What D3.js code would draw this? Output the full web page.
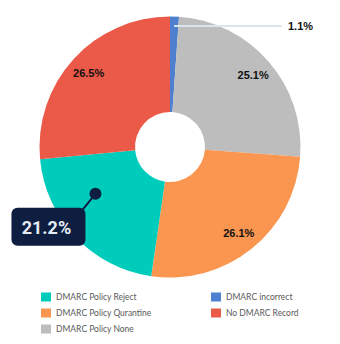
<!DOCTYPE html>
<html>
<head>
<meta charset="utf-8">
<script src="https://cdn.jsdelivr.net/npm/d3@7"></script>
<style>
  html, body { margin: 0; padding: 0; background: #ffffff; }
  svg { display: block; }
</style>
</head>
<body>
<svg id="chart" width="340" height="344"></svg>
<script>
// DMARC status breakdown, drawn clockwise from 12 o'clock
const categories = ["DMARC incorrect", "DMARC Policy None", "DMARC Policy Quarantine", "DMARC Policy Reject", "No DMARC Record"];
const values = [1.1, 25.1, 26.1, 21.2, 26.5];
const colors = ["#4f80cf", "#bdbdbd", "#fa9650", "#00ccbc", "#eb5a48"];
const legendLabels = ["DMARC Policy Reject", "DMARC Policy Qurantine", "DMARC Policy None", "DMARC incorrect", "No DMARC Record"];
const legendKeys = [3, 2, 1, 0, 4];
const highlighted = "DMARC Policy Reject";

const svg = d3.select("#chart");
const cx = 170, cy = 147, outerR = 130.5, innerR = 35;

const slices = d3.pie().sort(null).value(d => d.value)(
  categories.map((c, i) => ({ name: c, value: values[i], color: colors[i] }))
);

const arc = d3.arc().innerRadius(innerR).outerRadius(outerR);
const g = svg.append("g").attr("transform", `translate(${cx},${cy})`);

g.selectAll("path.slice")
  .data(slices)
  .join("path")
  .attr("class", "slice")
  .attr("d", arc)
  .attr("fill", d => d.data.color);

const fmt = v => v.toFixed(1) + "%";
const polar = (angle, r) => [r * Math.sin(angle), -r * Math.cos(angle)];
const midAngle = d => (d.startAngle + d.endAngle) / 2;

// in-slice value labels for the large slices
g.selectAll("text.val")
  .data(slices.filter(d => d.data.value > 5 && d.data.name !== highlighted))
  .join("text")
  .attr("class", "val")
  .attr("x", d => polar(midAngle(d), 110)[0])
  .attr("y", d => polar(midAngle(d), 110)[1])
  .attr("text-anchor", "middle")
  .attr("dominant-baseline", "central")
  .style("font-family", "'Liberation Sans', Arial, sans-serif")
  .style("font-weight", "bold")
  .style("font-size", "11px")
  .attr("fill", "#111")
  .text(d => fmt(d.data.value));

// leader line + outside label for the thin slice
const small = slices.filter(d => d.data.value <= 5);
small.forEach(d => {
  const [sx, sy] = polar(midAngle(d), 121);
  const endX = 282 - cx;
  g.append("line")
    .attr("x1", sx).attr("y1", sy)
    .attr("x2", endX).attr("y2", sy)
    .attr("stroke", "#dce4ef")
    .attr("stroke-width", 2);
  g.append("text")
    .attr("x", endX + 6).attr("y", sy)
    .attr("dominant-baseline", "central")
    .style("font-family", "'Liberation Sans', Arial, sans-serif")
    .style("font-weight", "bold")
    .style("font-size", "11px")
    .attr("fill", "#111")
    .text(fmt(d.data.value));
});

// hover tooltip on the highlighted slice
const hov = slices.find(d => d.data.name === highlighted);
const hoverAngle = hov.startAngle + 0.65 * (hov.endAngle - hov.startAngle);
const [hx, hy] = polar(hoverAngle, 88);
const boxW = 74, boxH = 38;
const bx = hx - 84, by = hy + 14;
g.append("line")
  .attr("x1", hx).attr("y1", hy)
  .attr("x2", bx + boxW - 3).attr("y2", by + 2)
  .attr("stroke", "#0d1e40")
  .attr("stroke-width", 2);
g.append("rect")
  .attr("x", bx).attr("y", by)
  .attr("width", boxW).attr("height", boxH)
  .attr("rx", 6)
  .attr("fill", "#0d1e40");
g.append("circle")
  .attr("cx", hx).attr("cy", hy)
  .attr("r", 6)
  .attr("fill", "#0d1e40");
g.append("text")
  .attr("x", bx + boxW / 2 - 2).attr("y", by + boxH / 2 + 1)
  .attr("text-anchor", "middle")
  .attr("dominant-baseline", "central")
  .style("font-family", "Roboto, 'Liberation Sans', sans-serif")
  .style("font-weight", "bold")
  .style("font-size", "18px")
  .attr("fill", "#e6ecf5")
  .text(fmt(hov.data.value));

// legend: two columns
const legend = svg.append("g");
const colX = [41, 211], rowY = [297, 313, 329];
legendKeys.forEach((k, i) => {
  const col = i < 3 ? 0 : 1;
  const row = i < 3 ? i : i - 3;
  const item = legend.append("g").attr("transform", `translate(${colX[col]},${rowY[row]})`);
  item.append("rect")
    .attr("x", 0).attr("y", -4.5)
    .attr("width", 10).attr("height", 9)
    .attr("fill", colors[k]);
  item.append("text")
    .attr("x", 15).attr("y", 0)
    .attr("dominant-baseline", "central")
    .style("font-family", "Lato, 'Open Sans', sans-serif")
    .style("font-size", "8.5px")
    .attr("fill", "#5a5a5a")
    .text(legendLabels[i]);
});
</script>
</body>
</html>
